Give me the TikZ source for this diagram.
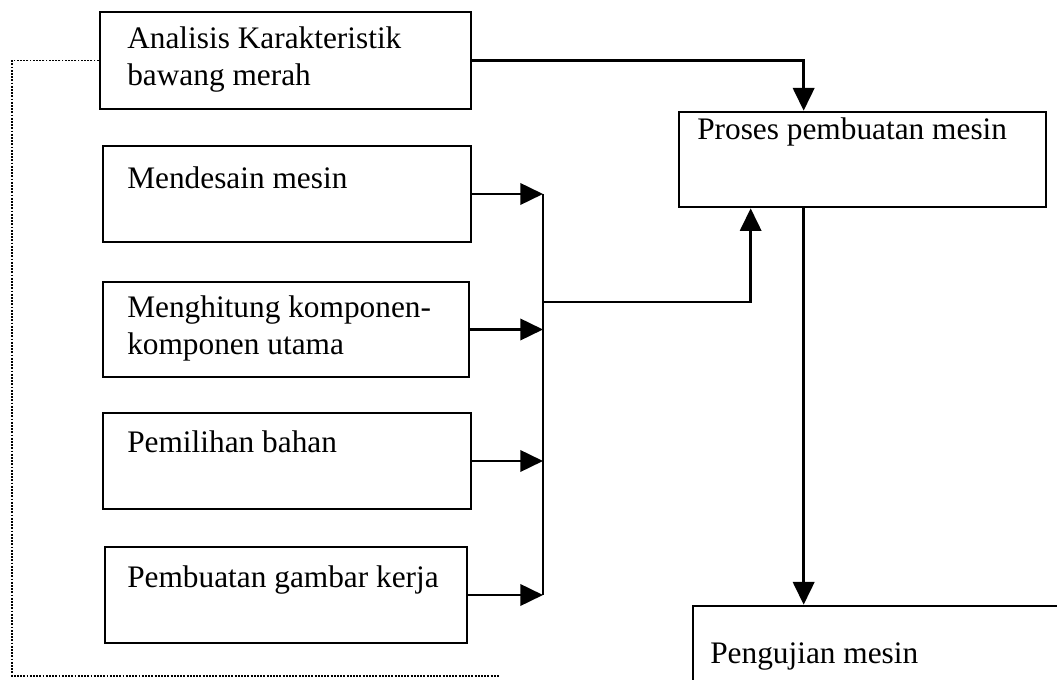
\documentclass[tikz,border=0pt]{standalone}
\usepackage{fontspec}
\setmainfont{Liberation Serif}
\usetikzlibrary{arrows.meta,fit,calc}
\begin{document}
\begin{tikzpicture}[x=0.75pt,y=-0.75pt,
  boxstyle/.style={draw, line width=2pt, inner sep=0pt},
  lbl/.style={anchor=base west, inner sep=0pt, font=\fontsize{23.5pt}{27.5pt}\selectfont},
  conn/.style={line width=2pt},
  arr/.style={line width=2pt, -{Triangle[length=17pt,width=16pt]}},
  fbline/.style={line width=1.4pt, densely dotted}
]
\useasboundingbox (0,0) rectangle (1057,680);
\clip (0,0) rectangle (1057,680);

% boxes
\node[boxstyle, fit={(100,12) (471,109)}] (A) {};
\node[boxstyle, fit={(679,112) (1046,207)}] (P) {};
\node[boxstyle, fit={(103,146) (471,242)}] (M1) {};
\node[boxstyle, fit={(103,282) (469,377)}] (M2) {};
\node[boxstyle, fit={(103,413) (471,509)}] (M3) {};
\node[boxstyle, fit={(105,547) (467,643)}] (M4) {};
\node[boxstyle, fit={(693,606) (1090,720)}] (T) {};

% labels
\node[lbl] (tA1) at (127,49) {Analisis Karakteristik};
\node[lbl] (tA2) at (127,86) {bawang merah};
\node[lbl] (tP) at (697,140) {Proses pembuatan mesin};
\node[lbl] (tM1) at (127,189) {Mendesain mesin};
\node[lbl] (tM2a) at (127,318) {Menghitung komponen-};
\node[lbl] (tM2b) at (127,355) {komponen utama};
\node[lbl] (tM3) at (127,453) {Pemilihan bahan};
\node[lbl] (tM4) at (127,588) {Pembuatan gambar kerja};
\node[lbl] (tT) at (710,663) {Pengujian mesin};

% helper coordinates
\coordinate (bus) at (543,0);
\coordinate (pin) at ($(P.north west)+(126,0)$);
\coordinate (pup) at ($(P.south west)+(73,0)$);
\coordinate (pout) at ($(P.south west)+(126,0)$);
\coordinate (junc) at (543,302);
\coordinate (fb1) at (12,60.5);
\coordinate (fb2) at (12,676);
\coordinate (fb3) at (500,676);

% connectors
\draw[arr] (A.east) -| (pin);
\draw[arr] (M1.east) -- (M1.east -| bus);
\draw[arr] (M2.east) -- (M2.east -| bus);
\draw[arr] (M3.east) -- (M3.east -| bus);
\draw[arr] (M4.east) -- (M4.east -| bus);
\draw[conn] (M1.east -| bus) -- (M4.east -| bus);
\draw[arr] (junc) -| (pup);
\draw[arr] (pout) -- (pout |- T.north);
\draw[fbline] (A.west) -- (fb1) -- (fb2) -- (fb3);
\end{tikzpicture}
\end{document}
